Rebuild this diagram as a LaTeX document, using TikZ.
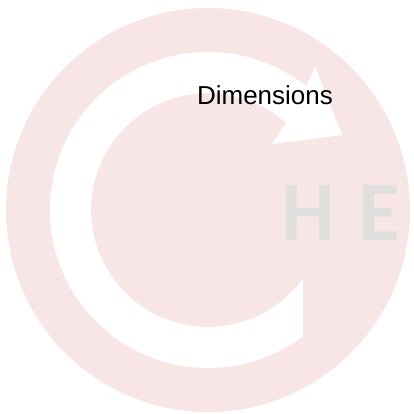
\documentclass[tikz,border=0pt]{standalone}
\usepackage{fontspec}
\setmainfont{Liberation Sans}
\newfontfamily\lettersfont{Carlito}
\usepackage{xcolor}
\usepackage{tikz}
\usetikzlibrary{calc}
\definecolor{palepink}{RGB}{248,230,230}
\definecolor{softgrey}{RGB}{223,223,221}

\begin{document}
\begin{tikzpicture}[x=1pt,y=1pt,
    ringfill/.style={fill=palepink},
    arrowfill/.style={fill=white},
    letters/.style={text=softgrey,font=\lettersfont\bfseries\fontsize{85}{88}\selectfont,inner sep=0pt},
    caption/.style={text=black,font=\fontsize{26}{30}\selectfont,inner sep=0pt}
  ]
    \useasboundingbox (0,0) rectangle (414,414);
    \coordinate (c) at (208,204);
    % background disc
    \fill[ringfill] (c) circle[radius=202];
    % circular arrow
    \fill[arrowfill] ($(c)+(-53:158)$) arc[start angle=-53,end angle=-308.4,radius=158]
      -- ($(c)+(107,143)$) -- ($(c)+(134,75)$) -- ($(c)+(64,66)$)
      -- ($(c)+(48.1:117)$) arc[start angle=48.1,end angle=324.3,radius=117] -- cycle;
    \node[letters,anchor=base west] (he) at (281,173) {H\hspace{4pt} E};
    \node[caption,anchor=base] (dim) at (265,309) {Dimensions};
  \end{tikzpicture}
\end{document}
